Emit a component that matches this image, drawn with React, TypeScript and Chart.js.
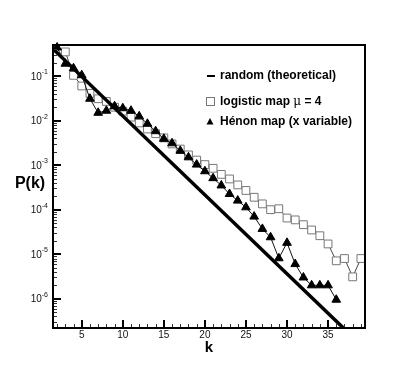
import React, { useEffect, useRef } from "react";
import { Chart, registerables } from "chart.js";

Chart.register(...registerables);

// ---- data ----
const logisticK = [3, 4, 5, 6, 7, 8, 9, 10, 11, 12, 13, 14, 15, 16, 17, 18, 19, 20, 21, 22, 23, 24, 25, 26, 27, 28, 29, 30, 31, 32, 33, 34, 35, 36, 37, 38, 39];
const logisticP = [0.35, 0.104, 0.06, 0.041, 0.031, 0.027, 0.02, 0.0163, 0.012, 0.0089, 0.0065, 0.0051, 0.0041, 0.003, 0.0023, 0.0017, 0.0013, 0.00103, 8.5e-4, 6.2e-4, 4.9e-4, 3.6e-4, 2.7e-4, 1.9e-4, 1.35e-4, 1.0e-4, 1.05e-4, 6.5e-5, 5.9e-5, 4.6e-5, 3.5e-5, 2.6e-5, 1.7e-5, 7.1e-6, 8.0e-6, 3.1e-6, 8.0e-6];

const henonK = [2, 3, 4, 5, 6, 7, 8, 9, 10, 11, 12, 13, 14, 15, 16, 17, 18, 19, 20, 21, 22, 23, 24, 25, 26, 27, 28, 29, 30, 31, 32, 33, 34, 35, 36];
const henonP = [0.44, 0.19, 0.15, 0.105, 0.031, 0.015, 0.0167, 0.021, 0.019, 0.0167, 0.0125, 0.0085, 0.0058, 0.0039, 0.0031, 0.0021, 0.0015, 0.00103, 7.3e-4, 5.1e-4, 3.5e-4, 2.25e-4, 1.6e-4, 1.13e-4, 7.0e-5, 3.7e-5, 2.4e-5, 8.1e-6, 1.8e-5, 6.0e-6, 3.0e-6, 2.0e-6, 2.0e-6, 2.0e-6, 9.5e-7];

// theoretical random: P(k) = (1/3)(2/3)^(k-2), endpoints of the straight line
const randomK = [1.5, 37.5];
const randomP = [0.408, 1.7e-7];

const xMajorTicks = [5, 10, 15, 20, 25, 30, 35];
const yMajorExponents = [-6, -5, -4, -3, -2, -1];

const X_MIN = 1.5;
const X_MAX = 39.5;
const Y_MIN = 2.2e-7;
const Y_MAX = 0.5;

const FONT = "'Liberation Sans', Arial, Helvetica, sans-serif";

const decorPlugin = {
  id: "decor",
  afterDatasetsDraw(chart: any) {
    const { ctx, chartArea: a, scales } = chart;
    const x = scales.x;
    const y = scales.y;
    ctx.save();

    // ticks on x (inward)
    for (let k = Math.ceil(X_MIN); k <= X_MAX; k++) {
      const major = xMajorTicks.includes(k);
      const px = Math.round(x.getPixelForValue(k));
      ctx.strokeStyle = major ? "#000" : "#333";
      ctx.lineWidth = major ? 2 : 1;
      ctx.beginPath();
      const off = major ? 0 : 0.5;
      ctx.moveTo(px + off, a.bottom);
      ctx.lineTo(px + off, a.bottom - (major ? 8 : 4));
      ctx.stroke();
    }
    // ticks on y (inward)
    for (let e = -7; e <= 0; e++) {
      for (let m = 1; m <= 9; m++) {
        const v = m * Math.pow(10, e);
        if (v < Y_MIN || v > Y_MAX) continue;
        const major = m === 1;
        const py = Math.round(y.getPixelForValue(v));
        ctx.strokeStyle = major ? "#000" : "#333";
        ctx.lineWidth = major ? 2 : 1;
        const off = major ? 0 : 0.5;
        ctx.beginPath();
        ctx.moveTo(a.left, py + off);
        ctx.lineTo(a.left + (major ? 8 : 4), py + off);
        ctx.stroke();
      }
    }

    // frame
    ctx.strokeStyle = "#000";
    ctx.lineWidth = 2;
    ctx.strokeRect(a.left, a.top, a.right - a.left, a.bottom - a.top);

    // x tick labels
    ctx.fillStyle = "#111";
    ctx.font = `10px ${FONT}`;
    ctx.textAlign = "center";
    ctx.textBaseline = "middle";
    for (const k of xMajorTicks) {
      ctx.fillText(String(k), x.getPixelForValue(k), a.bottom + 7);
    }

    // y tick labels 10^e
    for (const e of yMajorExponents) {
      const py = y.getPixelForValue(Math.pow(10, e));
      const sup = String(e);
      ctx.font = `7px ${FONT}`;
      const supW = ctx.measureText(sup).width;
      const right = a.left - 5;
      ctx.textAlign = "left";
      ctx.textBaseline = "middle";
      ctx.fillText(sup, right - supW, py - 4);
      ctx.font = `10px ${FONT}`;
      ctx.textAlign = "right";
      ctx.fillText("10", right - supW, py + 1);
    }

    // axis titles
    ctx.fillStyle = "#000";
    ctx.font = `bold 15px ${FONT}`;
    ctx.textAlign = "center";
    ctx.textBaseline = "middle";
    ctx.fillText("k", (a.left + a.right) / 2, a.bottom + 20);
    ctx.font = `bold 16px ${FONT}`;
    ctx.fillText("P(k)", 30, 184);

    // legend
    const lx = 211;
    const tx = 220;
    ctx.font = `bold 12px ${FONT}`;
    ctx.textAlign = "left";
    ctx.textBaseline = "middle";
    // line
    ctx.strokeStyle = "#000";
    ctx.lineWidth = 2;
    ctx.beginPath();
    ctx.moveTo(lx - 4, 76);
    ctx.lineTo(lx + 4, 76);
    ctx.stroke();
    ctx.fillText("random (theoretical)", tx, 76);
    // square
    ctx.strokeStyle = "#777";
    ctx.lineWidth = 1;
    ctx.fillStyle = "#fff";
    ctx.fillRect(lx - 4.5, 97.5, 8, 8);
    ctx.strokeRect(lx - 4.5, 97.5, 8, 8);
    ctx.fillStyle = "#000";
    let cx = tx;
    const seg1 = "logistic map ";
    ctx.fillText(seg1, cx, 102);
    cx += ctx.measureText(seg1).width;
    ctx.font = `12px 'DejaVu Serif', serif`;
    ctx.fillText("\u03bc", cx, 102);
    cx += ctx.measureText("\u03bc").width;
    ctx.font = `bold 12px ${FONT}`;
    ctx.fillText(" = 4", cx, 102);
    // triangle
    ctx.beginPath();
    ctx.moveTo(lx - 1, 118);
    ctx.lineTo(lx + 2.5, 124.5);
    ctx.lineTo(lx - 4.5, 124.5);
    ctx.closePath();
    ctx.fill();
    ctx.fillText("H\u00e9non map (x variable)", tx, 122);

    ctx.restore();
  },
};

export default function App() {
  const ref = useRef<HTMLCanvasElement | null>(null);
  useEffect(() => {
    if (!ref.current) return;
    const chart = new Chart(ref.current, {
      type: "scatter",
      data: {
        datasets: [
          {
            label: "Hénon map (x variable)",
            data: henonK.map((k, i) => ({ x: k, y: henonP[i] })),
            showLine: true,
            borderColor: "#111",
            borderWidth: 1,
            pointStyle: "triangle",
            pointRadius: 5,
            pointBackgroundColor: "#000",
            pointBorderColor: "#000",
            pointBorderWidth: 1,
            order: 0,
            clip: false as any,
          },
          {
            label: "random (theoretical)",
            data: randomK.map((k, i) => ({ x: k, y: randomP[i] })),
            showLine: true,
            borderColor: "#000",
            borderWidth: 3.5,
            pointRadius: 0,
            order: 1,
          },
          {
            label: "logistic map μ = 4",
            data: logisticK.map((k, i) => ({ x: k, y: logisticP[i] })),
            showLine: true,
            borderColor: "#444",
            borderWidth: 1,
            pointStyle: "rect",
            pointRadius: 5.5,
            pointBackgroundColor: "#fff",
            pointBorderColor: "#777",
            pointBorderWidth: 1,
            order: 2,
            clip: false as any,
          },
        ],
      },
      options: {
        animation: false,
        responsive: false,
        devicePixelRatio: 1,
        layout: { padding: { left: 53, right: 50, top: 45, bottom: 41 } },
        plugins: { legend: { display: false }, tooltip: { enabled: false } },
        scales: {
          x: { type: "linear", min: X_MIN, max: X_MAX, display: false },
          y: { type: "logarithmic", min: Y_MIN, max: Y_MAX, display: false },
        },
      },
      plugins: [decorPlugin],
    });
    return () => chart.destroy();
  }, []);
  return (
    <div style={{ position: "absolute", left: 0, top: 0, width: 415, height: 369, background: "#fff" }}>
      <canvas ref={ref} width={415} height={369} />
    </div>
  );
}
